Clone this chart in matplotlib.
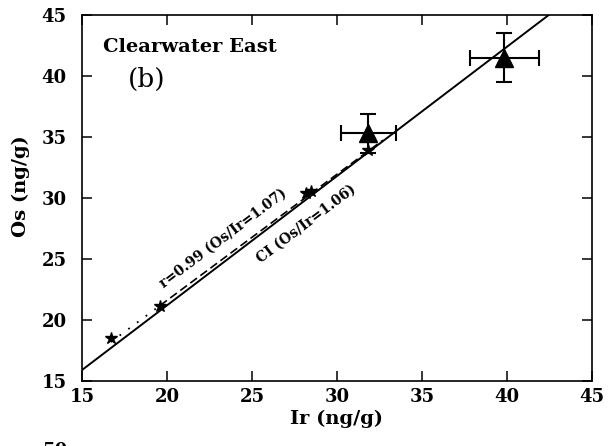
import numpy as np
import matplotlib
matplotlib.use('Agg')
import matplotlib.pyplot as plt

# star samples (Ir, Os) in ng/g
star_ir = [16.7, 19.6, 28.2, 28.5, 31.85]
star_os = [18.55, 21.15, 30.4, 30.6, 33.9]

# triangle samples with error bars
tri_ir = [31.85, 39.85]
tri_os = [35.3, 41.5]
tri_xerr = [[1.6, 2.0], [1.6, 2.05]]
tri_yerr = [[1.6, 1.95], [1.6, 2.0]]

ci_ratio = 1.06
fit_slope = 1.034
fit_offset = 0.93
fit_dotted = [16.7, 19.6]
fit_dashed = [19.6, 32.7]

plt.rcParams['font.family'] = ['DejaVu Serif']
plt.rcParams['font.weight'] = 'bold'

fig = plt.figure(figsize=(6.15, 4.46), dpi=100)
ax = fig.add_axes([0.1333, 0.1457, 0.8293, 0.8206])

# CI line
xs = np.array([15, 45])
ax.plot(xs, ci_ratio * xs, color='black', lw=1.4)

# regression line: dotted part then dashed part
xd = np.array(fit_dotted)
ax.plot(xd, fit_slope * xd + fit_offset, color='black', lw=1.3, linestyle=(0, (1, 5)))
xf = np.array(fit_dashed)
ax.plot(xf, fit_slope * xf + fit_offset, color='black', lw=1.2, linestyle=(0, (5, 2.5)))

ax.plot(star_ir, star_os, linestyle='none', marker='*', color='black', markersize=9)

ax.errorbar(tri_ir, tri_os, xerr=tri_xerr, yerr=tri_yerr, fmt='^', color='black',
            markersize=13, elinewidth=1.5, capsize=5.5, capthick=1.5)

ax.text(16.25, 42.35, 'Clearwater East', fontsize=14, ha='left', va='center')
ax.text(17.7, 39.75, '(b)', fontsize=19, fontweight='normal', ha='left', va='center')
ax.text(23.3, 26.7, 'r=0.99 (Os/Ir=1.07)', fontsize=10, rotation=37,
        ha='center', va='center', rotation_mode='anchor')
ax.text(28.2, 27.9, 'CI (Os/Ir=1.06)', fontsize=10, rotation=37,
        ha='center', va='center', rotation_mode='anchor')

ax.set_xlim(15, 45)
ax.set_ylim(15, 45)
ax.set_xticks(range(15, 46, 5))
ax.set_yticks(range(15, 46, 5))
ax.tick_params(direction='in', top=True, right=True, length=7, width=1.1, labelsize=13)
ax.tick_params(axis='x', pad=5)
ax.tick_params(axis='y', pad=11)
for s in ax.spines.values():
    s.set_linewidth(1.2)

ax.set_xlabel('Ir (ng/g)', fontsize=14, fontweight='bold', labelpad=3)
ax.set_ylabel('Os (ng/g)', fontsize=14, fontweight='bold')
ax.yaxis.set_label_coords(-0.102, 0.533)

fig.text(43 / 615, 0.009, '50', fontsize=13, ha='left', va='top')

fig.savefig('out.png', dpi=100)
